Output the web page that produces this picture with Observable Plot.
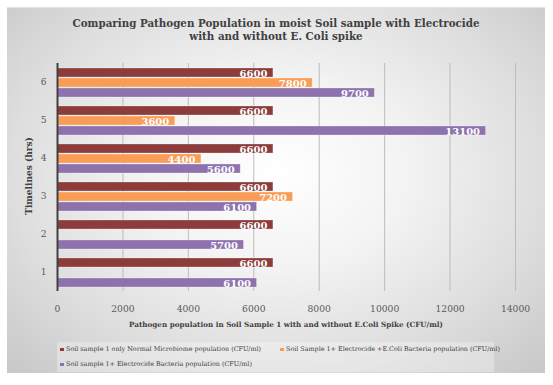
<!DOCTYPE html>
<html>
<head>
<meta charset="utf-8">
<script src="https://cdn.jsdelivr.net/npm/d3@7"></script>
<script src="https://cdn.jsdelivr.net/npm/@observablehq/plot@0.6"></script>
<style>
  html, body { margin: 0; padding: 0; background: #ffffff; }
  #wrap { position: relative; width: 553px; height: 385px; overflow: hidden; font-family: "DejaVu Serif", serif; }
  #panel { position: absolute; left: 7px; top: 7px; width: 538px; height: 366px;
    background: radial-gradient(ellipse 70% 75% at 50% 45%, #ffffff 0%, #f3f3f3 35%, #dedede 70%, #c9c9c9 100%);
    border-top: 1px solid #e4e4e4; box-sizing: border-box; }
  #title { position: absolute; left: 7px; width: 538px; top: 17px; text-align: center; font-weight: bold;
    font-size: 10.3px; line-height: 13px; color: #404040; }
  #chart { position: absolute; left: 0; top: 0; }
  #xtitle { position: absolute; left: 57px; width: 458px; top: 320px; text-align: center; font-weight: bold;
    font-size: 7.2px; color: #404040; }
  #ytitle { position: absolute; left: 29px; top: 176px; transform: translate(-50%, -50%) rotate(-90deg);
    white-space: nowrap; font-weight: bold; font-size: 9px; color: #404040; }
  #legend { position: absolute; left: 57px; top: 342px; width: 437px; height: 30px; background: rgba(255,255,255,0.3);
    font-size: 6.4px; color: #404040; }
  .item { position: absolute; white-space: nowrap; }
  .sw { display: inline-block; width: 3.5px; height: 3.5px; margin-right: 2.5px; vertical-align: middle; }
</style>
</head>
<body>
<div id="wrap">
  <div id="panel"></div>
  <div id="title">Comparing Pathogen Population in moist Soil sample with Electrocide<br>with and without E. Coli spike</div>
  <div id="chart"></div>
  <div id="xtitle"></div>
  <div id="ytitle"></div>
  <div id="legend"></div>
</div>
<script>
// ---- data ----
const timelines = [1, 2, 3, 4, 5, 6];
const normalMicrobiome = [6600, 6600, 6600, 6600, 6600, 6600];
const electrocideEcoli = [null, null, 7200, 4400, 3600, 7800];
const electrocideOnly = [6100, 5700, 6100, 5600, 13100, 9700];
const seriesNames = [
  "Soil sample 1 only Normal Microbiome population (CFU/ml)",
  "Soil Sample 1+ Electrocide +E.Coli Bacteria population (CFU/ml)",
  "Soil sample 1+ Electrocide Bacteria population (CFU/ml)"
];
const seriesColors = ["#8b3c3b", "#f99d56", "#8d72ae"];
const xTicks = [0, 2000, 4000, 6000, 8000, 10000, 12000, 14000];
const xTitle = "Pathogen population in Soil Sample 1 with and without E.Coli Spike (CFU/ml)";
const yTitle = "Timelines (hrs)";

const seriesValues = [normalMicrobiome, electrocideEcoli, electrocideOnly];
const rows = [];
timelines.forEach((t, i) => {
  seriesNames.forEach((s, j) => {
    const v = seriesValues[j][i];
    if (v != null) rows.push({time: t, series: s, value: v});
  });
});

const plot = Plot.plot({
  width: 553,
  height: 340,
  marginTop: 62,
  marginBottom: 49,
  marginLeft: 57,
  marginRight: 38,
  style: {background: "transparent", fontFamily: "DejaVu Serif, serif", fontSize: "9.2px", color: "#595959"},
  facet: {data: rows, y: "time"},
  fy: {domain: timelines.slice().reverse(), padding: 0, axis: "left", tickSize: 0, tickPadding: 11, label: null},
  y: {domain: seriesNames, axis: null, paddingInner: 0.1, paddingOuter: 0.37},
  x: {domain: [0, 14000], ticks: xTicks, tickSize: 0, tickPadding: 14, label: null, tickFormat: d => String(d)},
  color: {domain: seriesNames, range: seriesColors},
  marks: [
    Plot.ruleX(xTicks.slice(1), {stroke: "#bcbcbc", strokeWidth: 1}),
    Plot.barX(rows, {y: "series", x: "value", fill: "series", stroke: "#ffffff", strokeOpacity: 0.35, strokeWidth: 0.8}),
    Plot.text(rows, {y: "series", x: "value", text: d => String(d.value), textAnchor: "end", dx: -6, dy: 0.5,
      fill: "#ffffff", fontWeight: "bold", fontSize: 10, fontFamily: "DejaVu Serif, serif"}),
    Plot.ruleX([0], {stroke: "#404040", strokeWidth: 2})
  ]
});
document.getElementById("chart").appendChild(plot);
document.getElementById("xtitle").textContent = xTitle;
document.getElementById("ytitle").textContent = yTitle;

const legend = document.getElementById("legend");
const pos = [[3, 3], [223, 3], [3, 18]];
seriesNames.forEach((s, j) => {
  const it = document.createElement("div");
  it.className = "item";
  it.style.left = pos[j][0] + "px";
  it.style.top = pos[j][1] + "px";
  const sw = document.createElement("span");
  sw.className = "sw";
  sw.style.background = seriesColors[j];
  it.appendChild(sw);
  it.appendChild(document.createTextNode(s));
  legend.appendChild(it);
});
</script>
</body>
</html>
